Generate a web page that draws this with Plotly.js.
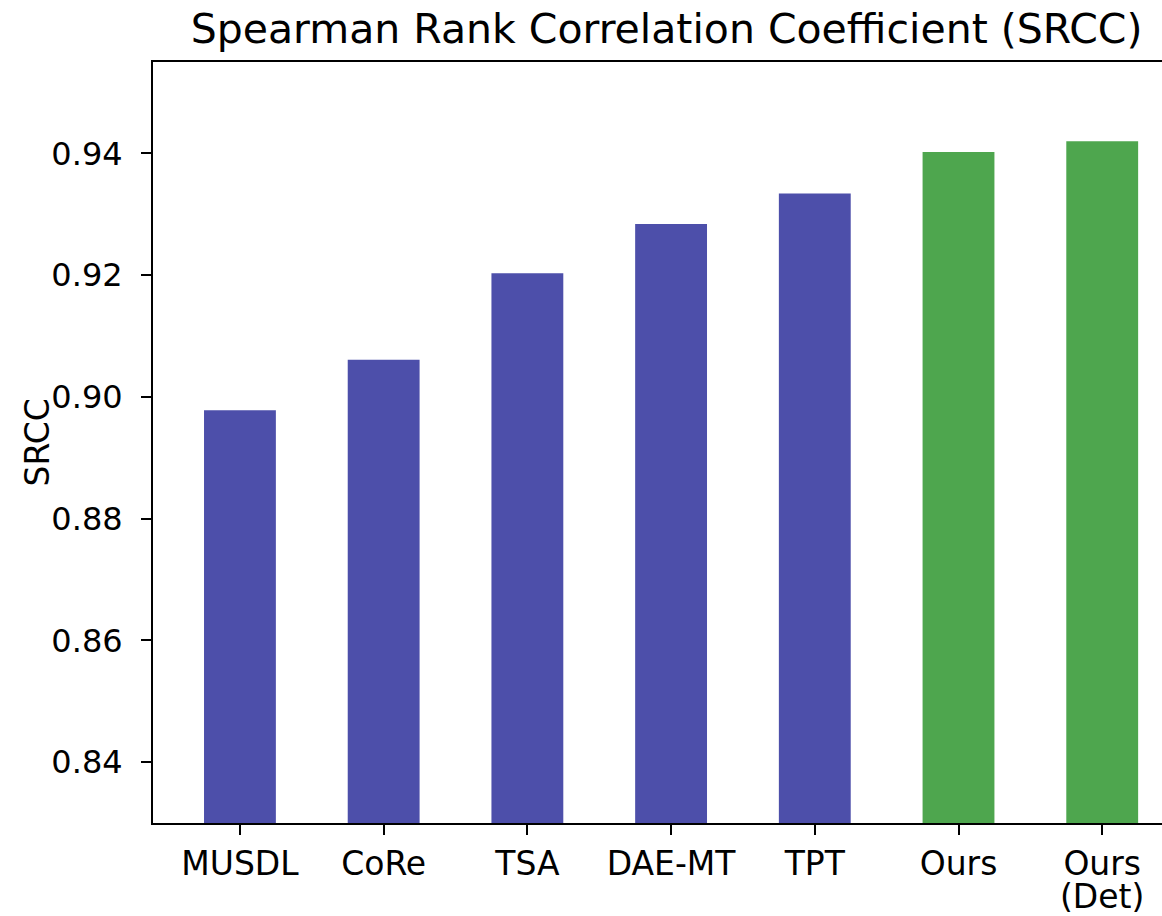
<!DOCTYPE html>
<html>
<head>
<meta charset="utf-8">
<script src="https://cdn.plot.ly/plotly-3.0.1.min.js"></script>
<style>
  html, body { margin: 0; padding: 0; background: #fff; }
  #chart { width: 1162px; height: 916px; }
</style>
</head>
<body>
<div id="chart"></div>
<script>
// Métodos y valores SRCC
const metodos = ["MUSDL", "CoRe", "TSA", "DAE-MT", "TPT", "Ours", "Ours\n(Det)"];
const srcc = [0.8978, 0.9061, 0.9203, 0.9284, 0.9334, 0.9402, 0.9420];
const esNuestro = [false, false, false, false, false, true, true];
const yTicks = [0.84, 0.86, 0.88, 0.90, 0.92, 0.94];

const azul = "#4d4faa";
const verde = "#4ea64e";

const posiciones = metodos.map((_, i) => i);

const trace = {
  x: posiciones,
  y: srcc,
  type: "bar",
  width: 0.5,
  marker: {
    color: esNuestro.map((n) => (n ? verde : azul)),
    line: { width: 0 },
  },
  hoverinfo: "y",
};

const fuente = { family: "DejaVu Sans, sans-serif", color: "#000" };

// Primera línea como texto del tick; la segunda línea va como anotación
// para que el interlineado sea como en matplotlib
const anotaciones = [];
metodos.forEach((m, i) => {
  const partes = m.split("\n");
  if (partes.length > 1) {
    anotaciones.push({
      x: i,
      xref: "x",
      y: -73 / 761,
      yref: "paper",
      yanchor: "middle",
      text: partes[1],
      showarrow: false,
      borderpad: 0,
      font: { ...fuente, size: 33 },
    });
  }
});

// Título del eje Y (como anotación para acercarlo a las etiquetas)
anotaciones.push({
  x: -116 / 1009,
  xref: "paper",
  xanchor: "center",
  y: 0.5,
  yref: "paper",
  yanchor: "middle",
  text: "SRCC",
  textangle: -90,
  showarrow: false,
  font: { ...fuente, size: 33 },
});

const layout = {
  width: 1162,
  height: 916,
  margin: { l: 153, r: 0, t: 62, b: 93 },
  paper_bgcolor: "#fff",
  plot_bgcolor: "#fff",
  showlegend: false,
  title: {
    text: "Spearman Rank Correlation Coefficient (SRCC)",
    font: { ...fuente, size: 41 },
    xref: "paper",
    x: 0.509,
    xanchor: "center",
    yref: "container",
    y: 1 - 29 / 916,
    yanchor: "middle",
  },
  xaxis: {
    range: [-0.605, 6.416],
    tickmode: "array",
    tickvals: posiciones,
    ticktext: metodos.map((m) => m.split("\n")[0]),
    ticks: "outside",
    ticklen: 10,
    tickwidth: 2,
    tickcolor: "#000",
    tickfont: { ...fuente, size: 33 },
    showline: true,
    linecolor: "#000",
    linewidth: 2,
    mirror: true,
    showgrid: false,
    zeroline: false,
  },
  yaxis: {
    range: [0.83, 0.955],
    tickmode: "array",
    tickvals: yTicks,
    ticktext: yTicks.map((v) => v.toFixed(2)),
    ticks: "outside",
    ticklen: 10,
    tickwidth: 2,
    tickcolor: "#000",
    tickfont: { ...fuente, size: 32 },
    ticklabelstandoff: 12,
    showline: true,
    linecolor: "#000",
    linewidth: 2,
    showgrid: false,
    zeroline: false,
  },
  annotations: anotaciones,
};

Plotly.newPlot("chart", [trace], layout, { displayModeBar: false, staticPlot: true });
</script>
</body>
</html>
